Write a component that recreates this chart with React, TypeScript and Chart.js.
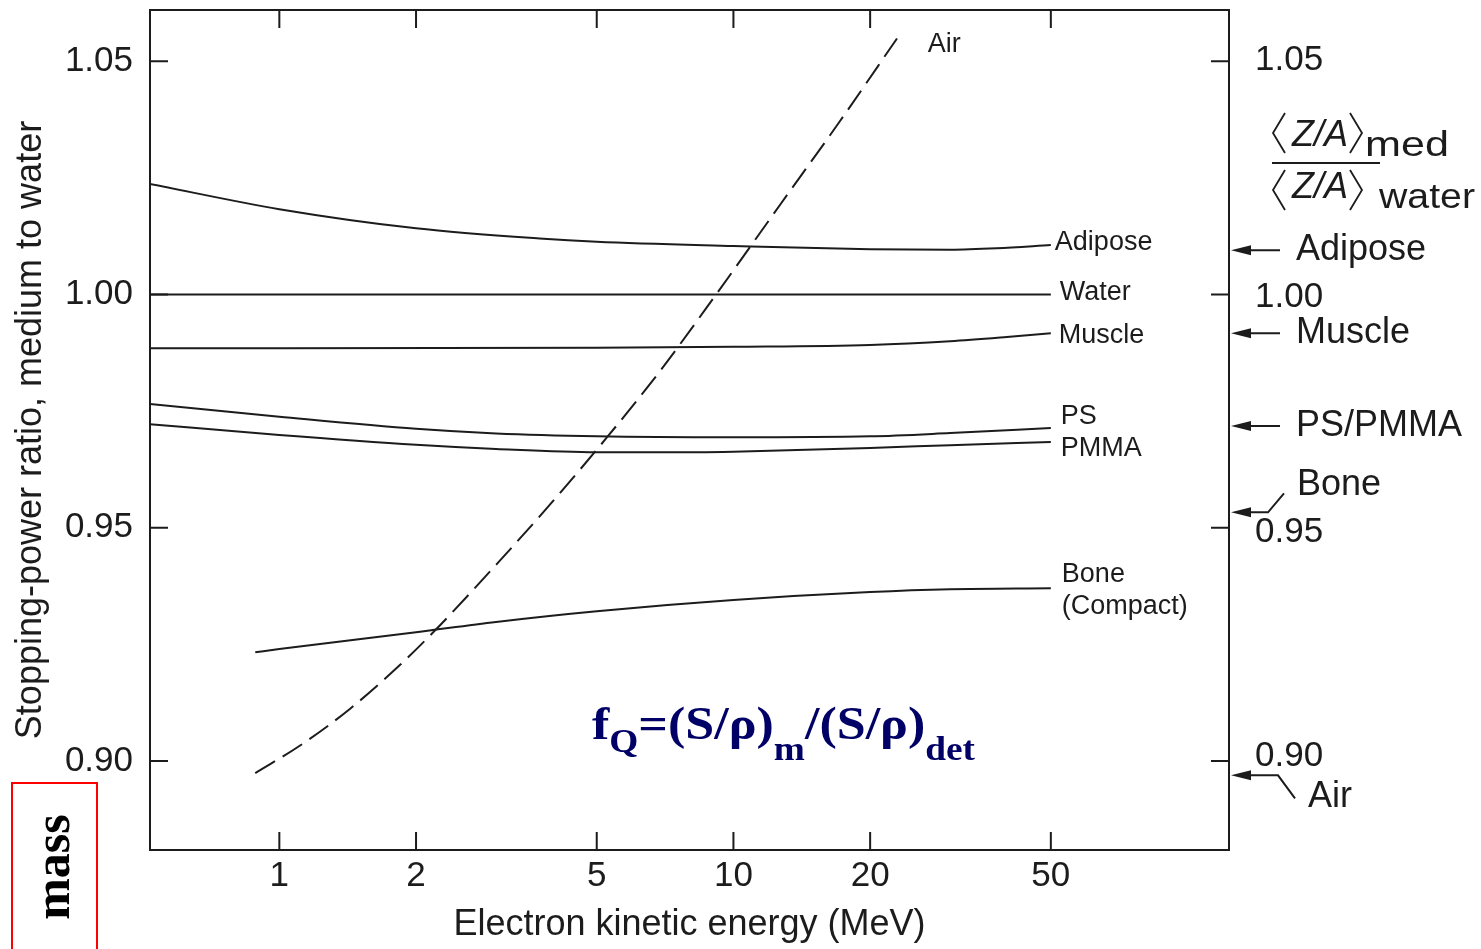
import React, { useEffect, useRef } from 'react';
import { Chart, registerables } from 'chart.js';

Chart.register(...registerables);

// ---------- data ----------
const energyTicks = [1, 2, 5, 10, 20, 50];
const ratioTicks = [0.9, 0.95, 1.0, 1.05];

const adiposeE = [0.519, 1, 2, 3.74, 5, 10, 20, 30, 38, 50];
const adiposeV = [1.0237, 1.0183, 1.0142, 1.012, 1.0113, 1.0104, 1.0097, 1.0096, 1.0099, 1.0106];

const waterE = [0.519, 1, 5, 10, 20, 50];
const waterV = [1.0, 1.0, 1.0, 1.0, 1.0, 1.0];

const muscleE = [0.519, 1, 5, 10, 20, 30, 40, 50];
const muscleV = [0.9885, 0.9885, 0.9886, 0.9888, 0.9892, 0.99, 0.9909, 0.9917];

const psE = [0.519, 1, 2, 3, 5, 10, 20, 30, 50];
const psV = [0.9765, 0.9738, 0.9712, 0.9702, 0.9696, 0.9694, 0.9696, 0.9703, 0.9714];

const pmmaE = [0.519, 1, 2, 3, 5, 8.4, 10, 20, 30, 50];
const pmmaV = [0.9722, 0.9699, 0.9678, 0.9669, 0.9662, 0.9662, 0.9663, 0.9671, 0.9677, 0.9684];

const boneE = [0.885, 1, 2, 3, 5, 10, 20, 30, 50];
const boneV = [0.9233, 0.924, 0.9276, 0.9298, 0.9321, 0.9345, 0.9362, 0.9368, 0.937];

const airE = [0.885, 1.111, 1.432, 1.845, 2.259, 3.063, 3.947, 5.269, 6.893, 9.203, 12.66, 17.17, 22.92];
const airV = [0.8974, 0.9033, 0.9112, 0.9206, 0.9291, 0.943, 0.955, 0.9694, 0.9836, 1.0003, 1.0192, 1.0372, 1.0549];

// <Z/A>med / <Z/A>water markers on the right axis
const zaNames = ['Adipose', 'Muscle', 'PS/PMMA', 'Bone', 'Air'];
const zaValues = [1.0095, 0.9917, 0.9718, 0.9533, 0.8969];

const FONT = '"Liberation Sans", Arial, Helvetica, sans-serif';
const SERIF = '"Liberation Serif", "Times New Roman", serif';
const INK = '#1c1c1c';

const pts = (E: number[], V: number[]) => E.map((e, i) => ({ x: e, y: V[i] }));

function drawFit(ctx: CanvasRenderingContext2D, text: string, x: number, y: number, font: string, width: number) {
  ctx.font = font;
  const m = ctx.measureText(text).width;
  ctx.save();
  ctx.translate(x, y);
  ctx.scale(width / m, 1);
  ctx.fillText(text, 0, 0);
  ctx.restore();
}

const overlay = {
  id: 'overlay',
  afterDraw(chart: any) {
    const ctx: CanvasRenderingContext2D = chart.ctx;
    const { left, right, top, bottom } = chart.chartArea;
    const xs = chart.scales.x;
    const ys = chart.scales.y;
    const y2 = chart.scales.y2;
    ctx.save();

    // frame
    ctx.strokeStyle = INK;
    ctx.lineWidth = 2;
    ctx.strokeRect(left, top, right - left, bottom - top);

    // inward ticks
    ctx.beginPath();
    energyTicks.forEach((v) => {
      const px = xs.getPixelForValue(v);
      ctx.moveTo(px, bottom);
      ctx.lineTo(px, bottom - 18);
      ctx.moveTo(px, top);
      ctx.lineTo(px, top + 18);
    });
    ratioTicks.forEach((v) => {
      const py = ys.getPixelForValue(v);
      ctx.moveTo(left, py);
      ctx.lineTo(left + 18, py);
      ctx.moveTo(right, py);
      ctx.lineTo(right - 18, py);
    });
    ctx.stroke();

    ctx.fillStyle = INK;
    ctx.textAlign = 'left';
    ctx.textBaseline = 'middle';

    // right axis tick labels (nudged as in the original figure)
    ctx.font = `35px ${FONT}`;
    const nudge = [-5, 5, 3, -1];
    ratioTicks.forEach((v, i) => {
      ctx.fillText(v.toFixed(2), right + 26, y2.getPixelForValue(v) + nudge[i]);
    });

    // curve labels
    ctx.font = `27px ${FONT}`;
    const x50 = xs.getPixelForValue(50);
    const curveLabels: [string, number, number][] = [
      ['Adipose', 4, 1.0112],
      ['Water', 9, 1.0005],
      ['Muscle', 8, 0.9911],
      ['PS', 10, 0.9739],
      ['PMMA', 10, 0.9669],
      ['Bone', 11, 0.94],
      ['(Compact)', 11, 0.9332],
    ];
    curveLabels.forEach(([t, dx, v]) => ctx.fillText(t, x50 + dx, ys.getPixelForValue(v)));
    ctx.fillText('Air', xs.getPixelForValue(26.8), ys.getPixelForValue(1.0535));

    // right side arrows and labels
    ctx.font = `36px ${FONT}`;
    ctx.lineWidth = 2;
    zaNames.forEach((name, i) => {
      const yy = ys.getPixelForValue(zaValues[i]);
      const tipX = right + 2;
      ctx.beginPath();
      ctx.moveTo(tipX, yy);
      ctx.lineTo(tipX + 20, yy - 5);
      ctx.lineTo(tipX + 20, yy + 5);
      ctx.closePath();
      ctx.fill();
      ctx.beginPath();
      ctx.moveTo(tipX + 10, yy);
      if (name === 'Bone') {
        ctx.lineTo(right + 39, yy);
        ctx.lineTo(right + 55, yy - 19);
        ctx.stroke();
        ctx.fillText(name, right + 68, yy - 27);
      } else if (name === 'Air') {
        ctx.lineTo(right + 49, yy);
        ctx.lineTo(right + 66, yy + 23);
        ctx.stroke();
        ctx.fillText(name, right + 79, yy + 22);
      } else {
        ctx.lineTo(right + 51, yy);
        ctx.stroke();
        ctx.fillText(name, right + 67, yy);
      }
    });

    // <Z/A>med / <Z/A>water
    const R = right;
    ctx.textBaseline = 'alphabetic';
    ctx.lineWidth = 1.8;
    const bracket = (x0: number, y0: number, dir: number) => {
      ctx.beginPath();
      ctx.moveTo(x0, y0);
      ctx.lineTo(x0 - 12 * dir, y0 + 20);
      ctx.lineTo(x0, y0 + 40);
      ctx.stroke();
    };
    bracket(R + 56, 113, 1);
    bracket(R + 121, 113, -1);
    bracket(R + 56, 170, 1);
    bracket(R + 121, 170, -1);
    drawFit(ctx, 'Z/A', R + 63, 146, `italic 37px ${FONT}`, 56);
    drawFit(ctx, 'med', R + 136, 156, `35px ${FONT}`, 84);
    drawFit(ctx, 'Z/A', R + 63, 198, `italic 37px ${FONT}`, 56);
    drawFit(ctx, 'water', R + 150, 208, `35px ${FONT}`, 96);
    ctx.lineWidth = 2;
    ctx.beginPath();
    ctx.moveTo(R + 43, 163);
    ctx.lineTo(R + 151, 163);
    ctx.stroke();

    // formula
    ctx.fillStyle = '#000066';
    const pieces: [string, number][] = [
      ['f', 0], ['Q', 13], ['=(S/ρ)', 0], ['m', 21], ['/(S/ρ)', 0], ['det', 21],
    ];
    const mainF = `bold 46px ${SERIF}`;
    const subF = `bold 33px ${SERIF}`;
    let total = 0;
    pieces.forEach(([t, off]) => {
      ctx.font = off ? subF : mainF;
      total += ctx.measureText(t).width;
    });
    const sx = 383 / total;
    ctx.save();
    ctx.translate(left + 442, 739);
    ctx.scale(sx, 1);
    let cx = 0;
    pieces.forEach(([t, off]) => {
      ctx.font = off ? subF : mainF;
      ctx.fillText(t, cx, off);
      cx += ctx.measureText(t).width;
    });
    ctx.restore();

    // "mass" box
    ctx.strokeStyle = '#ff0000';
    ctx.lineWidth = 2;
    ctx.strokeRect(12, 783, 85, 200);
    ctx.fillStyle = '#000000';
    ctx.save();
    ctx.translate(69, 867);
    ctx.rotate(-Math.PI / 2);
    ctx.textAlign = 'center';
    ctx.textBaseline = 'alphabetic';
    ctx.font = `bold 50px ${SERIF}`;
    ctx.fillText('mass', 0, 0);
    ctx.restore();

    ctx.restore();
  },
};

const line = (label: string, E: number[], V: number[], dashed = false) => ({
  label,
  data: pts(E, V),
  borderColor: INK,
  backgroundColor: INK,
  borderWidth: 2,
  borderDash: dashed ? [23, 9] : [],
  pointRadius: 0,
  fill: false,
  cubicInterpolationMode: 'monotone' as const,
  yAxisID: 'y',
});

const zeroPad = (s: any) => {
  s.paddingTop = 0;
  s.paddingBottom = 0;
};

export default function App() {
  const ref = useRef<HTMLCanvasElement | null>(null);

  useEffect(() => {
    if (!ref.current) return;
    const tickFont = { family: FONT, size: 35 };
    const yMin = 0.8809;
    const yMax = 1.061;
    const chart = new Chart(ref.current, {
      type: 'line',
      data: {
        datasets: [
          line('Adipose', adiposeE, adiposeV),
          line('Water', waterE, waterV),
          line('Muscle', muscleE, muscleV),
          line('PS', psE, psV),
          line('PMMA', pmmaE, pmmaV),
          line('Bone (Compact)', boneE, boneV),
          line('Air', airE, airV, true),
        ],
      },
      options: {
        responsive: false,
        animation: false,
        layout: { padding: { top: 10, left: 0, right: 0, bottom: 0 } },
        plugins: { legend: { display: false }, tooltip: { enabled: false } },
        scales: {
          x: {
            type: 'logarithmic',
            position: 'bottom',
            min: 0.519,
            max: 123.4,
            grid: { display: false, drawTicks: false },
            border: { display: false },
            afterBuildTicks: (s: any) => {
              s.ticks = energyTicks.map((v) => ({ value: v }));
            },
            afterFit: (s: any) => {
              s.height = 99;
              s.paddingLeft = 0;
              s.paddingRight = 0;
            },
            ticks: {
              autoSkip: false,
              maxRotation: 0,
              padding: 5,
              font: tickFont,
              color: INK,
              callback: (v: any) => String(v),
            },
            title: {
              display: true,
              text: 'Electron kinetic energy (MeV)',
              font: { family: FONT, size: 36 },
              color: INK,
              padding: { top: 0, bottom: 2 },
            },
          },
          y: {
            type: 'linear',
            position: 'left',
            min: yMin,
            max: yMax,
            grid: { display: false, drawTicks: false },
            border: { display: false },
            afterBuildTicks: (s: any) => {
              s.ticks = ratioTicks.map((v) => ({ value: v }));
            },
            afterFit: (s: any) => {
              s.width = 150;
              zeroPad(s);
            },
            ticks: {
              padding: 17,
              font: tickFont,
              color: INK,
              callback: (v: any) => Number(v).toFixed(2),
            },
            title: {
              display: true,
              text: 'Stopping-power ratio, medium to water',
              font: { family: FONT, size: 36 },
              color: INK,
              padding: { top: 9, bottom: 0 },
            },
          },
          y2: {
            type: 'linear',
            position: 'right',
            min: yMin,
            max: yMax,
            grid: { display: false, drawTicks: false },
            border: { display: false },
            afterBuildTicks: (s: any) => {
              s.ticks = ratioTicks.map((v) => ({ value: v }));
            },
            afterFit: (s: any) => {
              s.width = 252;
              zeroPad(s);
            },
            ticks: { display: false },
          },
        },
      },
      plugins: [overlay],
    } as any);
    return () => chart.destroy();
  }, []);

  return (
    <div style={{ position: 'fixed', left: 0, top: 0, width: 1481, height: 949, background: '#fff' }}>
      <canvas ref={ref} width={1481} height={949} style={{ display: 'block', width: 1481, height: 949 }} />
    </div>
  );
}
